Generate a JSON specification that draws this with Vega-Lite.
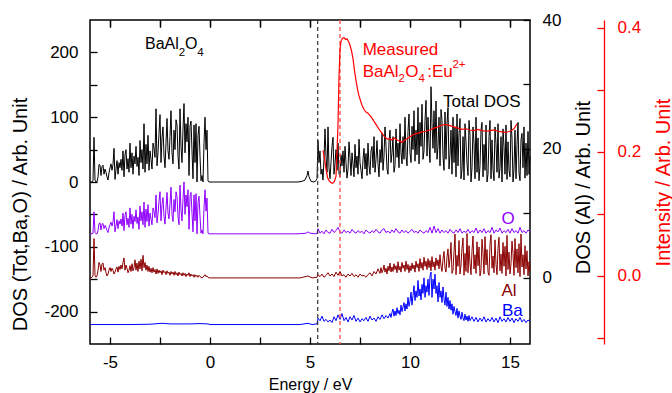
{
"$schema":"https://vega.github.io/schema/vega-lite/v6.json",
"width":440,"height":324,"autosize":"none",
"padding":{"left":90,"top":20,"right":142,"bottom":49},
"background":"white",
"config":{"view":{"stroke":"#000","strokeWidth":1.5},"font":"Liberation Sans",
 "axis":{"labelFont":"Liberation Sans","titleFont":"Liberation Sans","labelFontSize":17,"labelColor":"#000","tickColor":"#000","domainColor":"#000","grid":false,"titleFontWeight":"normal","titleColor":"#000","tickWidth":1.3,"domainWidth":1.3}},
"datasets":{
"tot":[{"e":-6,"v":0},{"e":-5.95,"v":0},{"e":-5.9,"v":0},{"e":-5.85,"v":2},{"e":-5.8,"v":69},{"e":-5.75,"v":3},{"e":-5.7,"v":0},{"e":-5.65,"v":0},{"e":-5.6,"v":8},{"e":-5.55,"v":27},{"e":-5.5,"v":26},{"e":-5.45,"v":10},{"e":-5.4,"v":24},{"e":-5.35,"v":26},{"e":-5.3,"v":12},{"e":-5.25,"v":20},{"e":-5.2,"v":15},{"e":-5.15,"v":8},{"e":-5.1,"v":3},{"e":-5.05,"v":14},{"e":-5,"v":22},{"e":-4.95,"v":28},{"e":-4.9,"v":18},{"e":-4.85,"v":27},{"e":-4.8,"v":52},{"e":-4.75,"v":4},{"e":-4.7,"v":20},{"e":-4.65,"v":33},{"e":-4.6,"v":12},{"e":-4.55,"v":30},{"e":-4.5,"v":22},{"e":-4.45,"v":35},{"e":-4.4,"v":18},{"e":-4.35,"v":48},{"e":-4.3,"v":8},{"e":-4.25,"v":42},{"e":-4.2,"v":50},{"e":-4.15,"v":20},{"e":-4.1,"v":36},{"e":-4.05,"v":15},{"e":-4,"v":60},{"e":-3.95,"v":22},{"e":-3.9,"v":45},{"e":-3.85,"v":12},{"e":-3.8,"v":40},{"e":-3.75,"v":28},{"e":-3.7,"v":55},{"e":-3.65,"v":24},{"e":-3.6,"v":38},{"e":-3.55,"v":10},{"e":-3.5,"v":64},{"e":-3.45,"v":30},{"e":-3.4,"v":50},{"e":-3.35,"v":20},{"e":-3.3,"v":90},{"e":-3.25,"v":15},{"e":-3.2,"v":58},{"e":-3.15,"v":28},{"e":-3.1,"v":72},{"e":-3.05,"v":18},{"e":-3,"v":48},{"e":-2.95,"v":35},{"e":-2.9,"v":20},{"e":-2.85,"v":60},{"e":-2.8,"v":52},{"e":-2.75,"v":38},{"e":-2.7,"v":113},{"e":-2.65,"v":25},{"e":-2.6,"v":45},{"e":-2.55,"v":75},{"e":-2.5,"v":104},{"e":-2.45,"v":30},{"e":-2.4,"v":68},{"e":-2.35,"v":85},{"e":-2.3,"v":40},{"e":-2.25,"v":22},{"e":-2.2,"v":60},{"e":-2.15,"v":98},{"e":-2.1,"v":48},{"e":-2.05,"v":35},{"e":-2,"v":70},{"e":-1.95,"v":110},{"e":-1.9,"v":45},{"e":-1.85,"v":28},{"e":-1.8,"v":80},{"e":-1.75,"v":50},{"e":-1.7,"v":96},{"e":-1.65,"v":88},{"e":-1.6,"v":40},{"e":-1.55,"v":20},{"e":-1.5,"v":113},{"e":-1.45,"v":55},{"e":-1.4,"v":30},{"e":-1.35,"v":82},{"e":-1.3,"v":121},{"e":-1.25,"v":45},{"e":-1.2,"v":90},{"e":-1.15,"v":62},{"e":-1.1,"v":100},{"e":-1.05,"v":10},{"e":-1,"v":86},{"e":-0.95,"v":94},{"e":-0.9,"v":48},{"e":-0.85,"v":5},{"e":-0.8,"v":88},{"e":-0.75,"v":30},{"e":-0.7,"v":90},{"e":-0.65,"v":0},{"e":-0.6,"v":72},{"e":-0.55,"v":86},{"e":-0.5,"v":40},{"e":-0.45,"v":2},{"e":-0.4,"v":10},{"e":-0.35,"v":0},{"e":-0.3,"v":60},{"e":-0.25,"v":100},{"e":-0.2,"v":50},{"e":-0.15,"v":80},{"e":-0.1,"v":2},{"e":-0.05,"v":0},{"e":0,"v":0},
{"e":4.4,"v":0},{"e":4.6,"v":1},{"e":4.75,"v":3},{"e":4.85,"v":10},{"e":4.9,"v":17},{"e":4.95,"v":8},{"e":5.05,"v":1},{"e":5.2,"v":0},{"e":5.3,"v":2},{"e":5.35,"v":5},
{"e":5.4,"v":64},{"e":5.45,"v":30},{"e":5.5,"v":48},{"e":5.55,"v":12},{"e":5.6,"v":20},{"e":5.65,"v":3},{"e":5.7,"v":35},{"e":5.75,"v":82},{"e":5.8,"v":40},{"e":5.85,"v":15},{"e":5.9,"v":85},{"e":5.95,"v":22},{"e":6,"v":5},{"e":6.05,"v":30},{"e":6.1,"v":55},{"e":6.15,"v":69},{"e":6.2,"v":12},{"e":6.25,"v":28},{"e":6.3,"v":50},{"e":6.35,"v":18},{"e":6.4,"v":60},{"e":6.45,"v":13},{"e":6.5,"v":8},{"e":6.55,"v":42},{"e":6.6,"v":25},{"e":6.65,"v":48},{"e":6.7,"v":15},{"e":6.75,"v":55},{"e":6.8,"v":30},{"e":6.85,"v":6},{"e":6.9,"v":20},{"e":6.95,"v":62},{"e":7,"v":38},{"e":7.05,"v":10},{"e":7.1,"v":45},{"e":7.15,"v":28},{"e":7.2,"v":8},{"e":7.25,"v":58},{"e":7.3,"v":22},{"e":7.35,"v":40},{"e":7.4,"v":12},{"e":7.45,"v":66},{"e":7.5,"v":30},{"e":7.55,"v":18},{"e":7.6,"v":5},{"e":7.65,"v":35},{"e":7.7,"v":52},{"e":7.75,"v":20},{"e":7.8,"v":44},{"e":7.85,"v":10},{"e":7.9,"v":60},{"e":7.95,"v":25},{"e":8,"v":12},{"e":8.05,"v":48},{"e":8.1,"v":55},{"e":8.15,"v":22},{"e":8.2,"v":70},{"e":8.25,"v":15},{"e":8.3,"v":35},{"e":8.35,"v":64},{"e":8.4,"v":28},{"e":8.45,"v":8},{"e":8.5,"v":50},{"e":8.55,"v":30},{"e":8.6,"v":75},{"e":8.65,"v":18},{"e":8.7,"v":40},{"e":8.75,"v":85},{"e":8.8,"v":55},{"e":8.85,"v":20},{"e":8.9,"v":12},{"e":8.95,"v":62},{"e":9,"v":80},{"e":9.05,"v":30},{"e":9.1,"v":45},{"e":9.15,"v":70},{"e":9.2,"v":15},{"e":9.25,"v":25},{"e":9.3,"v":82},{"e":9.35,"v":38},{"e":9.4,"v":60},{"e":9.45,"v":22},{"e":9.5,"v":90},{"e":9.55,"v":45},{"e":9.6,"v":28},{"e":9.65,"v":70},{"e":9.7,"v":35},{"e":9.75,"v":100},{"e":9.8,"v":40},{"e":9.85,"v":25},{"e":9.9,"v":78},{"e":9.95,"v":105},{"e":10,"v":45},{"e":10.05,"v":30},{"e":10.1,"v":86},{"e":10.15,"v":50},{"e":10.2,"v":110},{"e":10.25,"v":32},{"e":10.3,"v":80},{"e":10.35,"v":42},{"e":10.4,"v":115},{"e":10.45,"v":28},{"e":10.5,"v":92},{"e":10.55,"v":55},{"e":10.6,"v":120},{"e":10.65,"v":35},{"e":10.7,"v":48},{"e":10.75,"v":95},{"e":10.8,"v":126},{"e":10.85,"v":40},{"e":10.9,"v":100},{"e":10.95,"v":60},{"e":11,"v":30},{"e":11.05,"v":147},{"e":11.1,"v":90},{"e":11.15,"v":52},{"e":11.2,"v":110},{"e":11.25,"v":45},{"e":11.3,"v":125},{"e":11.35,"v":35},{"e":11.4,"v":55},{"e":11.45,"v":100},{"e":11.5,"v":25},{"e":11.55,"v":112},{"e":11.6,"v":95},{"e":11.65,"v":40},{"e":11.7,"v":18},{"e":11.75,"v":108},{"e":11.8,"v":35},{"e":11.85,"v":90},{"e":11.9,"v":115},{"e":11.95,"v":20},{"e":12,"v":42},{"e":12.05,"v":80},{"e":12.1,"v":12},{"e":12.15,"v":100},{"e":12.2,"v":30},{"e":12.25,"v":85},{"e":12.3,"v":8},{"e":12.35,"v":105},{"e":12.4,"v":25},{"e":12.45,"v":75},{"e":12.5,"v":98},{"e":12.55,"v":5},{"e":12.6,"v":20},{"e":12.65,"v":70},{"e":12.7,"v":3},{"e":12.75,"v":90},{"e":12.8,"v":62},{"e":12.85,"v":28},{"e":12.9,"v":10},{"e":12.95,"v":95},{"e":13,"v":72},{"e":13.05,"v":0},{"e":13.1,"v":22},{"e":13.15,"v":85},{"e":13.2,"v":60},{"e":13.25,"v":5},{"e":13.3,"v":100},{"e":13.35,"v":15},{"e":13.4,"v":68},{"e":13.45,"v":2},{"e":13.5,"v":25},{"e":13.55,"v":80},{"e":13.6,"v":92},{"e":13.65,"v":8},{"e":13.7,"v":58},{"e":13.75,"v":18},{"e":13.8,"v":88},{"e":13.85,"v":0},{"e":13.9,"v":12},{"e":13.95,"v":70},{"e":14,"v":95},{"e":14.05,"v":5},{"e":14.1,"v":65},{"e":14.15,"v":20},{"e":14.2,"v":2},{"e":14.25,"v":85},{"e":14.3,"v":60},{"e":14.35,"v":15},{"e":14.4,"v":90},{"e":14.45,"v":6},{"e":14.5,"v":22},{"e":14.55,"v":70},{"e":14.6,"v":0},{"e":14.65,"v":82},{"e":14.7,"v":55},{"e":14.75,"v":12},{"e":14.8,"v":88},{"e":14.85,"v":4},{"e":14.9,"v":62},{"e":14.95,"v":18},{"e":15,"v":8},{"e":15.05,"v":95},{"e":15.1,"v":68},{"e":15.15,"v":0},{"e":15.2,"v":20},{"e":15.25,"v":80},{"e":15.3,"v":5},{"e":15.35,"v":58},{"e":15.4,"v":92},{"e":15.45,"v":14},{"e":15.5,"v":2},{"e":15.55,"v":65},{"e":15.6,"v":75},{"e":15.65,"v":22},{"e":15.7,"v":85},{"e":15.75,"v":6},{"e":15.8,"v":60},{"e":15.85,"v":10},{"e":15.9,"v":78},{"e":15.95,"v":12},{"e":16,"v":40}],
"oxy":[{"e":-6,"v":-80},{"e":-5.95,"v":-80},{"e":-5.9,"v":-80},{"e":-5.85,"v":-79},{"e":-5.8,"v":-46},{"e":-5.75,"v":-78},{"e":-5.7,"v":-80},{"e":-5.65,"v":-80},{"e":-5.6,"v":-75},{"e":-5.55,"v":-64},{"e":-5.5,"v":-63},{"e":-5.45,"v":-74},{"e":-5.4,"v":-65},{"e":-5.35,"v":-64},{"e":-5.3,"v":-72},{"e":-5.25,"v":-67},{"e":-5.2,"v":-70},{"e":-5.15,"v":-75},{"e":-5.1,"v":-78},{"e":-5.05,"v":-71},{"e":-5,"v":-66},{"e":-4.95,"v":-62},{"e":-4.9,"v":-68},{"e":-4.85,"v":-62},{"e":-4.8,"v":-46},{"e":-4.75,"v":-77},{"e":-4.7,"v":-67},{"e":-4.65,"v":-58},{"e":-4.6,"v":-72},{"e":-4.55,"v":-60},{"e":-4.5,"v":-65},{"e":-4.45,"v":-57},{"e":-4.4,"v":-68},{"e":-4.35,"v":-48},{"e":-4.3,"v":-75},{"e":-4.25,"v":-52},{"e":-4.2,"v":-46},{"e":-4.15,"v":-66},{"e":-4.1,"v":-56},{"e":-4.05,"v":-70},{"e":-4,"v":-40},{"e":-3.95,"v":-65},{"e":-3.9,"v":-50},{"e":-3.85,"v":-72},{"e":-3.8,"v":-53},{"e":-3.75,"v":-61},{"e":-3.7,"v":-43},{"e":-3.65,"v":-64},{"e":-3.6,"v":-54},{"e":-3.55,"v":-73},{"e":-3.5,"v":-37},{"e":-3.45,"v":-60},{"e":-3.4,"v":-46},{"e":-3.35,"v":-66},{"e":-3.3,"v":-31},{"e":-3.25,"v":-70},{"e":-3.2,"v":-42},{"e":-3.15,"v":-61},{"e":-3.1,"v":-35},{"e":-3.05,"v":-68},{"e":-3,"v":-48},{"e":-2.95,"v":-57},{"e":-2.9,"v":-66},{"e":-2.85,"v":-40},{"e":-2.8,"v":-45},{"e":-2.75,"v":-55},{"e":-2.7,"v":-20},{"e":-2.65,"v":-63},{"e":-2.6,"v":-50},{"e":-2.55,"v":-30},{"e":-2.5,"v":-15},{"e":-2.45,"v":-60},{"e":-2.4,"v":-35},{"e":-2.35,"v":-24},{"e":-2.3,"v":-53},{"e":-2.25,"v":-65},{"e":-2.2,"v":-40},{"e":-2.15,"v":-16},{"e":-2.1,"v":-48},{"e":-2.05,"v":-57},{"e":-2,"v":-33},{"e":-1.95,"v":-8},{"e":-1.9,"v":-50},{"e":-1.85,"v":-61},{"e":-1.8,"v":-27},{"e":-1.75,"v":-46},{"e":-1.7,"v":-15},{"e":-1.65,"v":-22},{"e":-1.6,"v":-53},{"e":-1.55,"v":-66},{"e":-1.5,"v":-5},{"e":-1.45,"v":-43},{"e":-1.4,"v":-60},{"e":-1.35,"v":-26},{"e":-1.3,"v":0},{"e":-1.25,"v":-50},{"e":-1.2,"v":-20},{"e":-1.15,"v":-38},{"e":-1.1,"v":-12},{"e":-1.05,"v":-73},{"e":-1,"v":-22},{"e":-0.95,"v":-16},{"e":-0.9,"v":-48},{"e":-0.85,"v":-77},{"e":-0.8,"v":-20},{"e":-0.75,"v":-60},{"e":-0.7,"v":-18},{"e":-0.65,"v":-80},{"e":-0.6,"v":-32},{"e":-0.55,"v":-22},{"e":-0.5,"v":-53},{"e":-0.45,"v":-79},{"e":-0.4,"v":-74},{"e":-0.35,"v":-80},{"e":-0.3,"v":-40},{"e":-0.25,"v":-12},{"e":-0.2,"v":-45},{"e":-0.15,"v":-25},{"e":-0.1,"v":-79},{"e":-0.05,"v":-80},{"e":0,"v":-80},
{"e":4.4,"v":-80},{"e":4.8,"v":-79},{"e":4.9,"v":-77},{"e":5,"v":-79},{"e":5.3,"v":-80},{"e":5.35,"v":-79},
{"e":5.4,"v":-72},{"e":5.5,"v":-79},{"e":5.6,"v":-76},{"e":5.7,"v":-80},{"e":5.8,"v":-74},{"e":5.9,"v":-78},{"e":6,"v":-79},{"e":6.1,"v":-73},{"e":6.2,"v":-78},{"e":6.3,"v":-75},{"e":6.4,"v":-70},{"e":6.5,"v":-77},{"e":6.6,"v":-79},{"e":6.7,"v":-74},{"e":6.8,"v":-78},{"e":6.9,"v":-76},{"e":7,"v":-79},{"e":7.1,"v":-73},{"e":7.2,"v":-77},{"e":7.3,"v":-79},{"e":7.4,"v":-75},{"e":7.5,"v":-78},{"e":7.6,"v":-76},{"e":7.7,"v":-80},{"e":7.8,"v":-74},{"e":7.9,"v":-77},{"e":8,"v":-79},{"e":8.1,"v":-75},{"e":8.2,"v":-78},{"e":8.3,"v":-73},{"e":8.4,"v":-77},{"e":8.5,"v":-79},{"e":8.6,"v":-74},{"e":8.7,"v":-72},{"e":8.8,"v":-78},{"e":8.9,"v":-76},{"e":9,"v":-79},{"e":9.1,"v":-74},{"e":9.2,"v":-78},{"e":9.3,"v":-72},{"e":9.4,"v":-77},{"e":9.5,"v":-79},{"e":9.6,"v":-74},{"e":9.7,"v":-78},{"e":9.8,"v":-75},{"e":9.9,"v":-79},{"e":10,"v":-76},{"e":10.1,"v":-73},{"e":10.2,"v":-78},{"e":10.3,"v":-76},{"e":10.4,"v":-79},{"e":10.5,"v":-74},{"e":10.6,"v":-77},{"e":10.7,"v":-79},{"e":10.8,"v":-75},{"e":10.9,"v":-78},{"e":11,"v":-70},{"e":11.1,"v":-79},{"e":11.2,"v":-68},{"e":11.3,"v":-78},{"e":11.4,"v":-72},{"e":11.5,"v":-79},{"e":11.6,"v":-74},{"e":11.7,"v":-78},{"e":11.8,"v":-75},{"e":11.9,"v":-79},{"e":12,"v":-73},{"e":12.1,"v":-77},{"e":12.2,"v":-79},{"e":12.3,"v":-74},{"e":12.4,"v":-78},{"e":12.5,"v":-72},{"e":12.6,"v":-79},{"e":12.7,"v":-76},{"e":12.8,"v":-78},{"e":12.9,"v":-73},{"e":13,"v":-79},{"e":13.1,"v":-75},{"e":13.2,"v":-78},{"e":13.3,"v":-71},{"e":13.4,"v":-79},{"e":13.5,"v":-74},{"e":13.6,"v":-78},{"e":13.7,"v":-72},{"e":13.8,"v":-79},{"e":13.9,"v":-75},{"e":14,"v":-78},{"e":14.1,"v":-70},{"e":14.2,"v":-79},{"e":14.3,"v":-74},{"e":14.4,"v":-77},{"e":14.5,"v":-71},{"e":14.6,"v":-79},{"e":14.7,"v":-75},{"e":14.8,"v":-78},{"e":14.9,"v":-73},{"e":15,"v":-79},{"e":15.1,"v":-72},{"e":15.2,"v":-78},{"e":15.3,"v":-75},{"e":15.4,"v":-79},{"e":15.5,"v":-70},{"e":15.6,"v":-78},{"e":15.7,"v":-75},{"e":15.8,"v":-79},{"e":15.9,"v":-74},{"e":16,"v":-77}],
"ba":[{"e":-6,"v":-220},{"e":-4,"v":-220},{"e":-3,"v":-219.5},{"e":-2.4,"v":-218},{"e":-2,"v":-219},{"e":-1,"v":-219},{"e":-0.5,"v":-218.5},{"e":-0.1,"v":-219},{"e":0,"v":-220},{"e":4.5,"v":-220},{"e":4.9,"v":-218},{"e":5.1,"v":-220},{"e":5.35,"v":-219},
{"e":5.4,"v":-210},{"e":5.5,"v":-214},{"e":5.6,"v":-207},{"e":5.7,"v":-215},{"e":5.8,"v":-212},{"e":5.9,"v":-216},{"e":6,"v":-213},{"e":6.1,"v":-217},{"e":6.2,"v":-208},{"e":6.3,"v":-214},{"e":6.4,"v":-205},{"e":6.5,"v":-212},{"e":6.6,"v":-203},{"e":6.7,"v":-214},{"e":6.8,"v":-209},{"e":6.9,"v":-216},{"e":7,"v":-208},{"e":7.1,"v":-213},{"e":7.2,"v":-206},{"e":7.3,"v":-215},{"e":7.4,"v":-210},{"e":7.5,"v":-216},{"e":7.6,"v":-211},{"e":7.7,"v":-214},{"e":7.8,"v":-209},{"e":7.9,"v":-215},{"e":8,"v":-207},{"e":8.1,"v":-213},{"e":8.2,"v":-210},{"e":8.3,"v":-215},{"e":8.4,"v":-208},{"e":8.5,"v":-212},{"e":8.6,"v":-205},{"e":8.7,"v":-211},{"e":8.8,"v":-206},{"e":8.9,"v":-210},
{"e":9,"v":-203},{"e":9.05,"v":-209},{"e":9.1,"v":-201},{"e":9.15,"v":-196},{"e":9.2,"v":-207},{"e":9.25,"v":-199},{"e":9.3,"v":-206},{"e":9.35,"v":-194},{"e":9.4,"v":-203},{"e":9.45,"v":-198},{"e":9.5,"v":-205},{"e":9.55,"v":-190},{"e":9.6,"v":-200},{"e":9.65,"v":-193},{"e":9.7,"v":-186},{"e":9.75,"v":-199},{"e":9.8,"v":-188},{"e":9.85,"v":-196},{"e":9.9,"v":-178},{"e":9.95,"v":-192},{"e":10,"v":-184},{"e":10.05,"v":-170},{"e":10.1,"v":-190},{"e":10.15,"v":-175},{"e":10.2,"v":-160},{"e":10.25,"v":-183},{"e":10.3,"v":-168},{"e":10.35,"v":-178},{"e":10.4,"v":-152},{"e":10.45,"v":-176},{"e":10.5,"v":-165},{"e":10.55,"v":-182},{"e":10.6,"v":-158},{"e":10.65,"v":-172},{"e":10.7,"v":-148},{"e":10.75,"v":-178},{"e":10.8,"v":-160},{"e":10.85,"v":-170},{"e":10.9,"v":-150},{"e":10.95,"v":-175},{"e":11,"v":-145},{"e":11.05,"v":-139},{"e":11.1,"v":-178},{"e":11.15,"v":-150},{"e":11.2,"v":-165},{"e":11.25,"v":-142},{"e":11.3,"v":-172},{"e":11.35,"v":-160},{"e":11.4,"v":-185},{"e":11.45,"v":-155},{"e":11.5,"v":-178},{"e":11.55,"v":-168},{"e":11.6,"v":-186},{"e":11.65,"v":-162},{"e":11.7,"v":-180},{"e":11.75,"v":-190},{"e":11.8,"v":-170},{"e":11.85,"v":-192},{"e":11.9,"v":-178},{"e":11.95,"v":-196},{"e":12,"v":-183},{"e":12.05,"v":-198},{"e":12.1,"v":-188},{"e":12.15,"v":-204},{"e":12.2,"v":-192},{"e":12.25,"v":-200},{"e":12.3,"v":-206},{"e":12.35,"v":-195},{"e":12.4,"v":-210},{"e":12.45,"v":-199},{"e":12.5,"v":-207},{"e":12.55,"v":-212},{"e":12.6,"v":-201},{"e":12.65,"v":-210},{"e":12.7,"v":-214},{"e":12.75,"v":-204},{"e":12.8,"v":-213},{"e":12.85,"v":-207},{"e":12.9,"v":-215},{"e":12.95,"v":-206},
{"e":13,"v":-214},{"e":13.1,"v":-208},{"e":13.2,"v":-215},{"e":13.3,"v":-209},{"e":13.4,"v":-216},{"e":13.5,"v":-210},{"e":13.6,"v":-215},{"e":13.7,"v":-208},{"e":13.8,"v":-216},{"e":13.9,"v":-211},{"e":14,"v":-215},{"e":14.1,"v":-209},{"e":14.2,"v":-216},{"e":14.3,"v":-210},{"e":14.4,"v":-217},{"e":14.5,"v":-208},{"e":14.6,"v":-215},{"e":14.7,"v":-211},{"e":14.8,"v":-216},{"e":14.9,"v":-209},{"e":15,"v":-215},{"e":15.1,"v":-210},{"e":15.2,"v":-217},{"e":15.3,"v":-211},{"e":15.4,"v":-215},{"e":15.5,"v":-209},{"e":15.6,"v":-216},{"e":15.7,"v":-212},{"e":15.8,"v":-217},{"e":15.9,"v":-213},{"e":16,"v":-215}],
"al":[{"e":-6,"v":0},{"e":-5.95,"v":0},{"e":-5.9,"v":0.1},{"e":-5.85,"v":0.3},{"e":-5.8,"v":6.1},{"e":-5.75,"v":0.4},{"e":-5.7,"v":0.1},{"e":-5.65,"v":0.3},{"e":-5.6,"v":1.2},{"e":-5.55,"v":2.4},{"e":-5.5,"v":2},{"e":-5.45,"v":1},{"e":-5.4,"v":2.2},{"e":-5.35,"v":2.3},{"e":-5.3,"v":1.2},{"e":-5.25,"v":1.6},{"e":-5.2,"v":0.8},{"e":-5.15,"v":0.3},{"e":-5.1,"v":0.6},{"e":-5.05,"v":1.2},{"e":-5,"v":1.6},{"e":-4.95,"v":1},{"e":-4.9,"v":1.5},{"e":-4.85,"v":1.2},{"e":-4.8,"v":0.6},{"e":-4.75,"v":0.9},{"e":-4.7,"v":1.4},{"e":-4.65,"v":1.7},{"e":-4.6,"v":0.9},{"e":-4.55,"v":1.8},{"e":-4.5,"v":1.3},{"e":-4.45,"v":2},{"e":-4.4,"v":1.4},{"e":-4.35,"v":2.4},{"e":-4.3,"v":3.1},{"e":-4.25,"v":1.2},{"e":-4.2,"v":2},{"e":-4.15,"v":1.5},{"e":-4.1,"v":0.8},{"e":-4.05,"v":1.2},{"e":-4,"v":1.9},{"e":-3.95,"v":1},{"e":-3.9,"v":2.2},{"e":-3.85,"v":1.1},{"e":-3.8,"v":1.6},{"e":-3.75,"v":2.8},{"e":-3.7,"v":1.2},{"e":-3.65,"v":2.3},{"e":-3.6,"v":1},{"e":-3.55,"v":2.6},{"e":-3.5,"v":1.4},{"e":-3.45,"v":2.9},{"e":-3.4,"v":1.1},{"e":-3.35,"v":3.5},{"e":-3.3,"v":1.6},{"e":-3.25,"v":2.4},{"e":-3.2,"v":1.2},{"e":-3.15,"v":2},{"e":-3.1,"v":1},{"e":-3.05,"v":1.8},{"e":-3,"v":0.9},{"e":-2.95,"v":1.5},{"e":-2.9,"v":0.8},{"e":-2.85,"v":1.6},{"e":-2.8,"v":0.9},{"e":-2.75,"v":1.3},{"e":-2.7,"v":0.6},{"e":-2.65,"v":1.4},{"e":-2.6,"v":0.7},{"e":-2.55,"v":1.2},{"e":-2.5,"v":0.8},{"e":-2.45,"v":1.1},{"e":-2.4,"v":0.5},{"e":-2.35,"v":1.2},{"e":-2.3,"v":0.8},{"e":-2.25,"v":1},{"e":-2.2,"v":0.5},{"e":-2.15,"v":1.1},{"e":-2.1,"v":0.7},{"e":-2.05,"v":0.9},{"e":-2,"v":0.4},{"e":-1.95,"v":1},{"e":-1.9,"v":0.6},{"e":-1.85,"v":0.9},{"e":-1.8,"v":0.4},{"e":-1.75,"v":1},{"e":-1.7,"v":0.5},{"e":-1.65,"v":0.8},{"e":-1.6,"v":0.3},{"e":-1.55,"v":0.9},{"e":-1.5,"v":0.5},{"e":-1.45,"v":0.7},{"e":-1.4,"v":0.3},{"e":-1.35,"v":0.8},{"e":-1.3,"v":0.4},{"e":-1.25,"v":0.7},{"e":-1.2,"v":0.2},{"e":-1.15,"v":0.6},{"e":-1.1,"v":0.4},{"e":-1.05,"v":0.8},{"e":-1,"v":0.2},{"e":-0.95,"v":0.6},{"e":-0.9,"v":0.3},{"e":-0.85,"v":0.5},{"e":-0.8,"v":0.1},{"e":-0.75,"v":0.5},{"e":-0.7,"v":0.2},{"e":-0.65,"v":0.4},{"e":-0.6,"v":0.1},{"e":-0.55,"v":0.4},{"e":-0.5,"v":0.2},{"e":-0.45,"v":0.1},{"e":-0.4,"v":0},{"e":-0.35,"v":0.1},{"e":-0.3,"v":0.3},{"e":-0.25,"v":0.5},{"e":-0.2,"v":0.2},{"e":-0.15,"v":0.3},{"e":-0.1,"v":0.1},{"e":-0.05,"v":0},{"e":0,"v":0},
{"e":4.5,"v":0},{"e":4.9,"v":0.3},{"e":5.1,"v":0},{"e":5.35,"v":0.1},
{"e":5.4,"v":0.5},{"e":5.5,"v":0.2},{"e":5.6,"v":0.6},{"e":5.7,"v":0.1},{"e":5.8,"v":0.4},{"e":5.9,"v":0.8},{"e":6,"v":0.3},{"e":6.1,"v":0.6},{"e":6.2,"v":0.2},{"e":6.3,"v":0.9},{"e":6.4,"v":0.4},{"e":6.5,"v":1},{"e":6.6,"v":0.3},{"e":6.7,"v":0.5},{"e":6.8,"v":0.1},{"e":6.9,"v":0.6},{"e":7,"v":0.3},{"e":7.1,"v":0.7},{"e":7.2,"v":0.2},{"e":7.3,"v":0.5},{"e":7.4,"v":0.1},{"e":7.5,"v":0.6},{"e":7.6,"v":0.3},{"e":7.7,"v":0.4},{"e":7.8,"v":0.1},{"e":7.9,"v":0.5},{"e":8,"v":0.8},{"e":8.1,"v":0.3},{"e":8.2,"v":1},{"e":8.3,"v":0.6},{"e":8.4,"v":1.4},{"e":8.5,"v":0.7},
{"e":8.55,"v":1.6},{"e":8.6,"v":0.8},{"e":8.65,"v":1.2},{"e":8.7,"v":2},{"e":8.75,"v":0.9},{"e":8.8,"v":1.5},{"e":8.85,"v":0.6},{"e":8.9,"v":1.8},{"e":8.95,"v":1.1},{"e":9,"v":2.3},{"e":9.05,"v":0.9},{"e":9.1,"v":1.7},{"e":9.15,"v":1},{"e":9.2,"v":2.2},{"e":9.25,"v":1.3},{"e":9.3,"v":1.9},{"e":9.35,"v":0.8},{"e":9.4,"v":2.5},{"e":9.45,"v":1.2},{"e":9.5,"v":1.8},{"e":9.55,"v":0.9},{"e":9.6,"v":2.4},{"e":9.65,"v":1.5},{"e":9.7,"v":2},{"e":9.75,"v":1},{"e":9.8,"v":2.6},{"e":9.85,"v":1.3},{"e":9.9,"v":2.1},{"e":9.95,"v":0.8},{"e":10,"v":1.9},{"e":10.05,"v":1.1},{"e":10.1,"v":2.3},{"e":10.15,"v":1.4},{"e":10.2,"v":2},{"e":10.25,"v":0.9},{"e":10.3,"v":2.6},{"e":10.35,"v":1.6},{"e":10.4,"v":2.2},{"e":10.45,"v":1},{"e":10.5,"v":3},{"e":10.55,"v":1.5},{"e":10.6,"v":2.4},{"e":10.65,"v":1.2},{"e":10.7,"v":3.2},{"e":10.75,"v":1.8},{"e":10.8,"v":2.6},{"e":10.85,"v":1.3},{"e":10.9,"v":3},{"e":10.95,"v":1.6},{"e":11,"v":2.7},{"e":11.05,"v":1.1},{"e":11.1,"v":3.3},{"e":11.15,"v":1.7},{"e":11.2,"v":2.5},{"e":11.25,"v":1.2},{"e":11.3,"v":3.1},{"e":11.35,"v":1.9},{"e":11.4,"v":2.8},{"e":11.45,"v":1.4},
{"e":11.5,"v":3.6},{"e":11.55,"v":1.8},{"e":11.6,"v":1},{"e":11.65,"v":2.9},{"e":11.7,"v":4.1},{"e":11.75,"v":1.5},{"e":11.8,"v":0.9},{"e":11.85,"v":3.2},{"e":11.9,"v":4.5},{"e":11.95,"v":1.6},{"e":12,"v":3},{"e":12.05,"v":5.5},{"e":12.1,"v":0.7},{"e":12.15,"v":1.2},{"e":12.2,"v":4},{"e":12.25,"v":6.8},{"e":12.3,"v":0.5},{"e":12.35,"v":3.5},{"e":12.4,"v":1.8},{"e":12.45,"v":5.8},{"e":12.5,"v":0.6},{"e":12.55,"v":2},{"e":12.6,"v":4.6},{"e":12.65,"v":6.2},{"e":12.7,"v":0.4},{"e":12.75,"v":3.8},{"e":12.8,"v":1},{"e":12.85,"v":6.9},{"e":12.9,"v":0.8},{"e":12.95,"v":5},{"e":13,"v":2.2},{"e":13.05,"v":0.5},{"e":13.1,"v":4.2},{"e":13.15,"v":6.5},{"e":13.2,"v":1.4},{"e":13.25,"v":3.6},{"e":13.3,"v":0.7},{"e":13.35,"v":5.6},{"e":13.4,"v":1.9},{"e":13.45,"v":4.8},{"e":13.5,"v":0.3},{"e":13.55,"v":1.2},{"e":13.6,"v":6},{"e":13.65,"v":3.9},{"e":13.7,"v":0.6},{"e":13.75,"v":6.4},{"e":13.8,"v":2},{"e":13.85,"v":4.4},{"e":13.9,"v":0.9},{"e":13.95,"v":0.4},{"e":14,"v":5.2},{"e":14.05,"v":6.7},{"e":14.1,"v":1.5},{"e":14.15,"v":3.4},{"e":14.2,"v":0.8},{"e":14.25,"v":5.9},{"e":14.3,"v":2.1},{"e":14.35,"v":0.5},{"e":14.4,"v":4.6},{"e":14.45,"v":6.3},{"e":14.5,"v":1.1},{"e":14.55,"v":3.7},{"e":14.6,"v":0.7},{"e":14.65,"v":5.5},{"e":14.7,"v":1.8},{"e":14.75,"v":4.9},{"e":14.8,"v":0.3},{"e":14.85,"v":6.6},{"e":14.9,"v":1.3},{"e":14.95,"v":4},{"e":15,"v":0.6},{"e":15.05,"v":2.2},{"e":15.1,"v":5.7},{"e":15.15,"v":3.8},{"e":15.2,"v":0.4},{"e":15.25,"v":6.1},{"e":15.3,"v":1.6},{"e":15.35,"v":4.5},{"e":15.4,"v":0.8},{"e":15.45,"v":5.3},{"e":15.5,"v":0.2},{"e":15.55,"v":6.8},{"e":15.6,"v":1.7},{"e":15.65,"v":3.6},{"e":15.7,"v":0.5},{"e":15.75,"v":5},{"e":15.8,"v":1.4},{"e":15.85,"v":4.2},{"e":15.9,"v":0.3},{"e":15.95,"v":2.5},{"e":16,"v":1}],
"meas":[{"e":5.65,"v":0.202},{"e":5.72,"v":0.19},{"e":5.8,"v":0.172},{"e":5.88,"v":0.158},{"e":5.96,"v":0.153},{"e":6.05,"v":0.15},{"e":6.13,"v":0.149},{"e":6.22,"v":0.152},{"e":6.3,"v":0.16},{"e":6.35,"v":0.2},{"e":6.4,"v":0.245},{"e":6.45,"v":0.32},{"e":6.5,"v":0.365},{"e":6.55,"v":0.378},{"e":6.62,"v":0.383},{"e":6.7,"v":0.384},{"e":6.78,"v":0.381},{"e":6.85,"v":0.382},{"e":6.92,"v":0.378},{"e":7,"v":0.372},{"e":7.08,"v":0.362},{"e":7.15,"v":0.35},{"e":7.22,"v":0.332},{"e":7.3,"v":0.315},{"e":7.38,"v":0.3},{"e":7.45,"v":0.29},{"e":7.52,"v":0.283},{"e":7.6,"v":0.275},{"e":7.7,"v":0.268},{"e":7.8,"v":0.264},{"e":7.9,"v":0.262},{"e":8,"v":0.258},{"e":8.1,"v":0.254},{"e":8.2,"v":0.249},{"e":8.3,"v":0.244},{"e":8.4,"v":0.239},{"e":8.5,"v":0.234},{"e":8.6,"v":0.23},{"e":8.7,"v":0.225},{"e":8.8,"v":0.222},{"e":8.9,"v":0.22},{"e":9,"v":0.221},{"e":9.1,"v":0.219},{"e":9.2,"v":0.222},{"e":9.3,"v":0.22},{"e":9.4,"v":0.218},{"e":9.5,"v":0.217},{"e":9.6,"v":0.215},{"e":9.7,"v":0.218},{"e":9.8,"v":0.22},{"e":9.9,"v":0.222},{"e":10,"v":0.224},{"e":10.2,"v":0.228},{"e":10.4,"v":0.23},{"e":10.6,"v":0.232},{"e":10.8,"v":0.233},{"e":11,"v":0.235},{"e":11.2,"v":0.238},{"e":11.4,"v":0.24},{"e":11.6,"v":0.243},{"e":11.8,"v":0.244},{"e":12,"v":0.242},{"e":12.2,"v":0.24},{"e":12.4,"v":0.238},{"e":12.6,"v":0.236},{"e":12.8,"v":0.237},{"e":13,"v":0.235},{"e":13.2,"v":0.234},{"e":13.4,"v":0.236},{"e":13.6,"v":0.234},{"e":13.8,"v":0.233},{"e":14,"v":0.234},{"e":14.2,"v":0.235},{"e":14.4,"v":0.233},{"e":14.6,"v":0.232},{"e":14.8,"v":0.231},{"e":15,"v":0.233},{"e":15.2,"v":0.237},{"e":15.35,"v":0.245}],
"bigtext":[{"t":"Total DOS","e":11.65,"v":116.2,"s":"tot"},{"t":"Measured","e":7.635,"v":196,"s":"meas"},{"t":"BaAl","e":7.635,"v":161.6,"s":"meas"},{"t":"O","e":9.765,"v":161.6,"s":"meas"},{"t":":Eu","e":10.86,"v":161.6,"s":"meas"},{"t":"O","e":14.575,"v":-64.8,"s":"O"},{"t":"Al","e":14.575,"v":-175.9,"s":"Al"},{"t":"Ba","e":14.6,"v":-206.8,"s":"Ba"}],
"midtext":[{"t":"BaAl","e":-3.25,"v":204.8},{"t":"O","e":-1.255,"v":204.8}],
"smalltext":[{"t":"2","e":-1.56,"v":194.4,"s":"tot"},{"t":"4","e":-0.635,"v":194.4,"s":"tot"},{"t":"2","e":9.43,"v":153.9,"s":"meas"},{"t":"4","e":10.425,"v":153.9,"s":"meas"},{"t":"2+","e":12.12,"v":175.2,"s":"meas"}],
"vblack":[{"e":5.385}],
"vred":[{"e":6.5}]
},
"layer":[
 {"layer":[
  {"data":{"name":"tot"},"mark":{"type":"line","color":"#000","strokeWidth":1},
   "encoding":{
    "x":{"field":"e","type":"quantitative","scale":{"domain":[-6,16],"nice":false,"zero":false},
     "axis":{"orient":"bottom","values":[-5,-2.5,0,2.5,5,7.5,10,12.5,15],"labelExpr":"datum.value % 5 === 0 ? '' + datum.value : ''","tickSize":-7,"labelPadding":17,"domain":false,"title":"Energy / eV","titleFontSize":16,"titleX":220,"titleY":45,"titleAlign":"center","titleBaseline":"alphabetic"}},
    "y":{"field":"v","type":"quantitative","scale":{"domain":[-250,250],"nice":false,"zero":false},
     "axis":{"orient":"left","values":[-200,-150,-100,-50,0,50,100,150,200],"labelExpr":"datum.value % 100 === 0 ? '' + datum.value : ''","tickSize":-7,"labelPadding":19,"domain":false,"title":"DOS (Tot,Ba,O) / Arb. Unit","titleFontSize":20,"titleAngle":270,"titleX":-70,"titleY":194,"titleAlign":"center","titleBaseline":"middle"}}}},
  {"data":{"name":"oxy"},"mark":{"type":"line","color":"#8f00ff","strokeWidth":1},
   "encoding":{"x":{"field":"e","type":"quantitative"},"y":{"field":"v","type":"quantitative"}}},
  {"data":{"name":"ba"},"mark":{"type":"line","color":"#0000ff","strokeWidth":1},
   "encoding":{"x":{"field":"e","type":"quantitative"},"y":{"field":"v","type":"quantitative"}}},
  {"data":{"name":"vblack"},"mark":{"type":"rule","color":"#333","strokeDash":[4,3],"strokeWidth":1.2},
   "encoding":{"x":{"field":"e","type":"quantitative"}}},
  {"data":{"name":"vred"},"mark":{"type":"rule","color":"#ff5555","strokeDash":[4,3],"strokeWidth":1.4},
   "encoding":{"x":{"field":"e","type":"quantitative"}}},
  {"data":{"name":"bigtext"},"mark":{"type":"text","align":"left","baseline":"alphabetic","fontSize":17,"font":"Liberation Sans"},
   "encoding":{"x":{"field":"e","type":"quantitative"},"y":{"field":"v","type":"quantitative"},"text":{"field":"t"},
    "color":{"field":"s","type":"nominal","legend":null,"scale":{"domain":["tot","O","Al","Ba","meas"],"range":["#000000","#8f00ff","#8b0000","#0000ff","#ff0000"]}}}},
  {"data":{"name":"midtext"},"mark":{"type":"text","align":"left","baseline":"alphabetic","fontSize":16,"font":"Liberation Sans","color":"#000"},
   "encoding":{"x":{"field":"e","type":"quantitative"},"y":{"field":"v","type":"quantitative"},"text":{"field":"t"}}},
  {"data":{"name":"smalltext"},"mark":{"type":"text","align":"left","baseline":"alphabetic","fontSize":11.5,"font":"Liberation Sans"},
   "encoding":{"x":{"field":"e","type":"quantitative"},"y":{"field":"v","type":"quantitative"},"text":{"field":"t"},
    "color":{"field":"s","type":"nominal","legend":null}}}
 ]},
 {"data":{"name":"al"},"mark":{"type":"line","color":"#8b0000","strokeWidth":1},
  "encoding":{
   "x":{"field":"e","type":"quantitative","axis":{"orient":"top","values":[-5,-2.5,0,2.5,5,7.5,10,12.5,15],"labels":false,"tickSize":-7,"domain":false,"title":null}},
   "y":{"field":"v","type":"quantitative","scale":{"domain":[-10.25,40],"nice":false,"zero":false},
    "axis":{"orient":"right","values":[0,10,20,30,40],"labelExpr":"datum.value % 20 === 0 ? '' + datum.value : ''","tickSize":-7,"labelPadding":19,"domain":false,"title":"DOS (Al) / Arb. Unit","titleFontSize":20,"titleAngle":270,"titleX":53,"titleY":167,"titleAlign":"center","titleBaseline":"middle"}}}},
 {"data":{"name":"meas"},"mark":{"type":"line","color":"#ff0000","strokeWidth":1.2},
  "encoding":{
   "x":{"field":"e","type":"quantitative","axis":{"orient":"top","values":[-5,-2.5,0,2.5,5,7.5,10,12.5,15],"labels":false,"tickSize":-7,"domain":false,"title":null}},
   "y":{"field":"v","type":"quantitative","scale":{"domain":[-0.1102,0.4124],"nice":false,"zero":false},
    "axis":{"orient":"right","offset":74,"values":[-0.1,0,0.1,0.2,0.3,0.4],"labelExpr":"abs((datum.value*10) % 2) < 0.001 && datum.value >= 0 ? format(datum.value, '.1f') : ''","tickSize":-7,"labelPadding":20,"domain":true,"domainColor":"#ff0000","tickColor":"#ff0000","labelColor":"#ff0000","title":"Intensity / Arb. Unit","titleColor":"#ff0000","titleFontSize":20,"titleAngle":270,"titleX":59,"titleY":162,"titleAlign":"center","titleBaseline":"middle"}}}}
],
"resolve":{"scale":{"y":"independent"},"axis":{"x":"independent","y":"independent"}}
}
